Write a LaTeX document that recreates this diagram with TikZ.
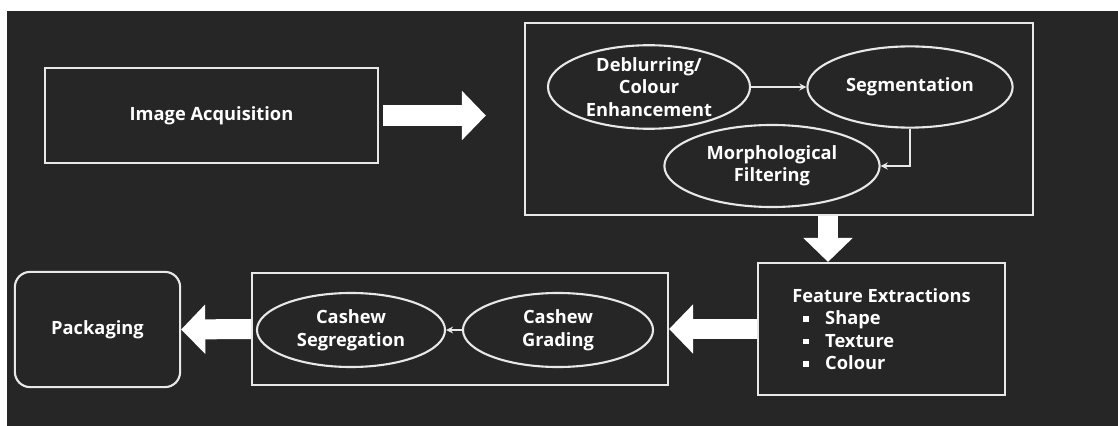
\documentclass[tikz,border=0pt]{standalone}
\usepackage{fontspec}
\setmainfont{Open Sans}
\usetikzlibrary{shapes.geometric,arrows.meta}
\definecolor{bgdark}{RGB}{38,38,38}
\definecolor{linelight}{RGB}{232,232,232}
\newcommand{\sqbullet}{\rule[0.3ex]{0.3em}{0.3em}}

\begin{document}
\begin{tikzpicture}[x=0.025cm, y=-0.025cm,
	box/.style={draw=linelight, line width=1.5pt, rectangle, inner sep=0pt, text=white, font=\fontsize{13}{16}\selectfont\bfseries, align=center},
	oval/.style={draw=linelight, line width=1.5pt, ellipse, inner sep=0pt, text=white, font=\fontsize{13}{16}\selectfont\bfseries, align=center},
	thinarrow/.style={draw=linelight, line width=1.2pt, -{Stealth[length=5pt, width=5pt]}},
	blockarrow/.style={draw=white, line width=0.5cm, -{Triangle[length=0.6cm, width=1.2cm]}}]
			%%%%% START %%%%%
			
			\fill[white] (0, 0) rectangle (1118, 426);
			\fill[bgdark] (7, 11) rectangle (1118, 426);
			
			% upper row
			\node[box, minimum width=8.33cm, minimum height=2.38cm] (acq) at (211.5, 115.5) {Image Acquisition};
			\node[box, minimum width=12.7cm, minimum height=4.8cm] (proc) at (779, 119) {};
			\node[oval, minimum width=5.05cm, minimum height=2.03cm] (deblur) at (649, 87) {Deblurring/\\Colour\\Enhancement};
			\node[oval, minimum width=5.13cm, minimum height=2.03cm] (seg) at (910, 87) {Segmentation};
			\node[oval, minimum width=5.38cm, minimum height=2.05cm] (morph) at (772, 166) {Morphological\\Filtering};
			
			% lower row
			\node[box, minimum width=6.18cm, minimum height=3.3cm, align=left] (feat) at (881.5, 329) {Feature Extractions\\
				\hspace{0.6em}\sqbullet\hspace{0.9em}Shape\\
				\hspace{0.6em}\sqbullet\hspace{0.9em}Texture\\
				\hspace{0.6em}\sqbullet\hspace{0.9em}Colour};
			\node[box, minimum width=10.4cm, minimum height=2.8cm] (sortbox) at (460, 329) {};
			\node[oval, minimum width=4.7cm, minimum height=1.85cm] (segr) at (351, 330) {Cashew\\Segregation};
			\node[oval, minimum width=4.75cm, minimum height=1.85cm] (grading) at (558, 330) {Cashew\\Grading};
			\node[box, minimum width=4.13cm, minimum height=2.88cm, rounded corners=0.38cm] (pack) at (97.5, 329.5) {Packaging};
			
			% thin connectors
			\draw[thinarrow] (deblur) -- (seg);
			\draw[thinarrow] (seg.south) |- (morph.east);
			\draw[thinarrow] (grading) -- (segr);
			
			% block arrows
			\coordinate (dn) at (828, 0);
			\draw[blockarrow, shorten <=0.1cm, shorten >=0.95cm] (acq.east) -- (proc.west |- acq.east);
			\draw[blockarrow] (proc.south -| dn) -- (feat.north -| dn);
			\draw[blockarrow] (feat.west) -- (sortbox.east);
			\draw[blockarrow] (sortbox.west) -- (pack.east);
			
			%%%%% END %%%%%
\end{tikzpicture}
\end{document}
